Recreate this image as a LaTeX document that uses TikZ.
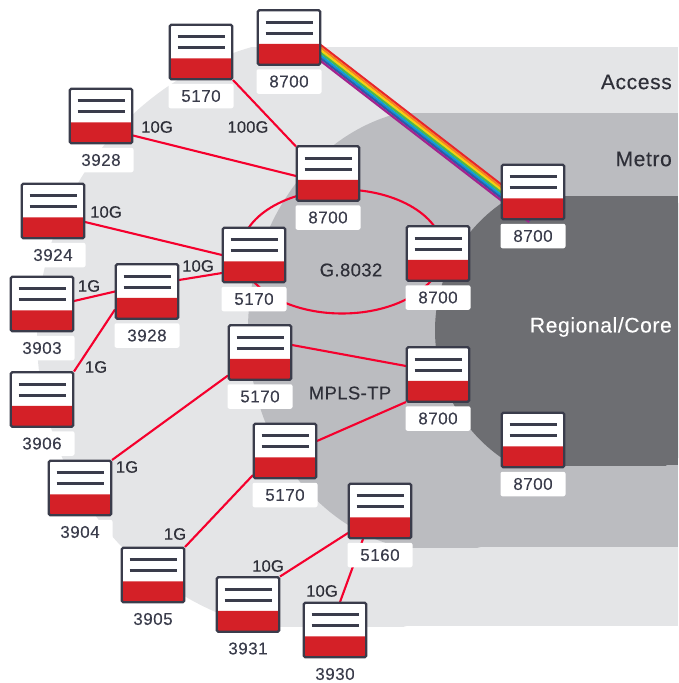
\documentclass[tikz,border=0pt]{standalone}
\usepackage{fontspec}
\setmainfont{Liberation Sans}
\newfontfamily\labfont[FakeBold=0.12,LetterSpace=3]{Liberation Sans}
\newfontfamily\speedfont[FakeBold=0.3,LetterSpace=1]{Liberation Sans}
\newfontfamily\zonefont[FakeBold=0.3,LetterSpace=3]{Liberation Sans}
\newfontfamily\protofont[FakeBold=0.3,LetterSpace=2]{Liberation Sans}
\usetikzlibrary{calc}
\definecolor{accessbg}{HTML}{E4E5E7}
\definecolor{metrobg}{HTML}{BBBCC0}
\definecolor{corebg}{HTML}{6D6E72}
\definecolor{ink}{HTML}{3A3C4B}
\definecolor{zoneink}{HTML}{2E2F38}
\definecolor{boxred}{HTML}{D42027}
\definecolor{linkred}{HTML}{F5002D}
\tikzset{
  devbox/.style={draw=ink,line width=2.2pt,rounded corners=1.5pt,fill=white,minimum width=62.5pt,minimum height=54.5pt,inner sep=0pt,
    path picture={
      \fill[boxred] ([yshift=21pt]path picture bounding box.south west) rectangle (path picture bounding box.south east);
      \draw[ink,line width=3pt] ([xshift=-23.5pt,yshift=15.5pt]path picture bounding box.center) -- ([xshift=23.5pt,yshift=15.5pt]path picture bounding box.center);
      \draw[ink,line width=3pt] ([xshift=-23.5pt,yshift=4.5pt]path picture bounding box.center) -- ([xshift=23.5pt,yshift=4.5pt]path picture bounding box.center);
    }},
  namebox/.style={fill=white,rounded corners=2pt,minimum width=65pt,minimum height=24.5pt,inner sep=0pt,text=ink,font=\labfont\fontsize{17}{17}\selectfont},
  link/.style={draw=linkred,line width=2.1pt},
  speed/.style={text=zoneink,font=\speedfont\fontsize{16.5}{16.5}\selectfont,inner sep=0pt},
  proto/.style={text=zoneink,font=\protofont\fontsize{18.5}{18.5}\selectfont,inner sep=0pt},
  zone/.style={font=\zonefont\fontsize{21}{21}\selectfont,inner sep=0pt,anchor=east},
  rainbowline/.style={line width=2.2pt}
}
% name, left, top, caption
\newcommand{\device}[4]{%
  \node[devbox] (#1) at (#2+32,#3+28) {};
  \node[namebox] (#1-l) at (#2+32,#3+72) {#4};
}
\begin{document}
\begin{tikzpicture}[x=1pt,y=-1pt]
\useasboundingbox (0,0) rectangle (678,683);
% zones
\begin{scope}
  \clip (0,47) rectangle (678,626);
  \fill[accessbg] (331,336) ellipse [x radius=294,y radius=300];
  \fill[accessbg] (331,47) rectangle (678,626);
\end{scope}
\begin{scope}
  \clip (0,113) rectangle (678,547);
  \fill[metrobg] (440,330) ellipse [x radius=192,y radius=222];
  \fill[metrobg] (440,113) rectangle (678,547);
\end{scope}
\begin{scope}
  \clip (0,196) rectangle (678,465);
  \fill[corebg] (590,330.5) ellipse [x radius=155,y radius=155];
  \fill[corebg] (590,196) rectangle (678,465);
\end{scope}
% anchors for the connectors
\foreach \n/\x/\y in {a/257/9.5,t/169/24,q/69/88,r/21/183,c/296/145.5,e/222/227,m/115/263.5,
  s/10/276,u/10/371.5,v/48/460,b/228/324.5,d/253/423,w/121/547,x/216/576.5,y/303/602,
  f/348/483,g/501/164,h/406/225.5,i/406/346.5,j/501/412}{
  \coordinate (\n-p) at (\x+32,\y+28);
}
% rainbow
\coordinate (ra) at ($(a-p)+(0,-9)$);
\coordinate (rb) at ($(g-p)+(0,25)$);
\foreach \col/\off in {E8262A/6.3,F58220/4.2,F6D10E/2.1,4FB848/0,0E9CD8/-2.1,2A5CAA/-4.2,A3238E/-6.3}{
  \definecolor{rb}{HTML}{\col}
  \draw[rainbowline,rb] ($(ra)!\off pt!90:(rb)$) -- ($(rb)!\off pt!-90:(ra)$);
}
% ring
\draw[link] (342,251.5) ellipse [x radius=101,y radius=62];
% links
\draw[link] ($(t-p)+(32,28)$) -- ($(c-p)+(-32,-27)$);
\draw[link] ($(q-p)+(32,19.5)$) -- ($(c-p)+(-32,2.5)$);
\draw[link] ($(r-p)+(32,11)$) -- ($(e-p)+(-32,0)$);
\draw[link] ($(m-p)+(32,-11.5)$) -- ($(e-p)+(-32,18)$);
\draw[link] ($(s-p)+(32,-3)$) -- ($(m-p)+(-32,0)$);
\draw[link] ($(u-p)+(32,-28)$) -- ($(m-p)+(-32,18)$);
\draw[link] ($(v-p)+(32,-28)$) -- ($(b-p)+(-32,23)$);
\draw[link] ($(b-p)+(32,-7.5)$) -- ($(i-p)+(-32,-8.5)$);
\draw[link] ($(i-p)+(-32,27.5)$) -- ($(d-p)+(32,-10)$);
\draw[link] ($(d-p)+(-32,24)$) -- ($(w-p)+(32,-28)$);
\draw[link] ($(f-p)+(-32,22)$) -- ($(x-p)+(32,-28)$);
\draw[link] ($(f-p)+(-17,28)$) -- ($(y-p)+(5,-28)$);
% devices
\device{a}{257}{9.5}{8700}
\device{t}{169}{24}{5170}
\device{q}{69}{88}{3928}
\device{r}{21}{183}{3924}
\device{c}{296}{145.5}{8700}
\device{e}{222}{227}{5170}
\device{m}{115}{263.5}{3928}
\device{s}{10}{276}{3903}
\device{u}{10}{371.5}{3906}
\device{v}{48}{460}{3904}
\device{b}{228}{324.5}{5170}
\device{d}{253}{423}{5170}
\device{w}{121}{547}{3905}
\device{x}{216}{576.5}{3931}
\device{y}{303}{602}{3930}
\device{f}{348}{483}{5160}
\device{g}{501}{164}{8700}
\device{h}{406}{225.5}{8700}
\device{i}{406}{346.5}{8700}
\device{j}{501}{412}{8700}
% speeds
\node[speed] (s1) at (248,127) {100G};
\node[speed] (s2) at (157,127) {10G};
\node[speed] (s3) at (106,212) {10G};
\node[speed] (s4) at (198,266) {10G};
\node[speed] (s5) at (89,286) {1G};
\node[speed] (s6) at (96,367) {1G};
\node[speed] (s7) at (127,467) {1G};
\node[speed] (s8) at (175,534) {1G};
\node[speed] (s9) at (268,566) {10G};
\node[speed] (s10) at (322,591) {10G};
% zones and protocols
\node[zone,text=zoneink] (z1) at (672,82) {Access};
\node[zone,text=zoneink] (z2) at (672,159) {Metro};
\node[zone,text=white] (z3) at (672,327) {Regional/Core};
\node[proto] (p1) at (351,270) {G.8032};
\node[proto] (p2) at (350,393) {MPLS-TP};
\end{tikzpicture}
\end{document}
